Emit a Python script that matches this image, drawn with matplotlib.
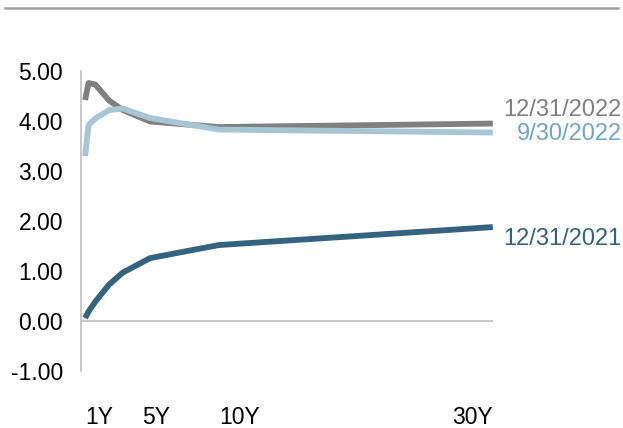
import numpy as np
import matplotlib
matplotlib.use("Agg")
import matplotlib.pyplot as plt
from matplotlib.lines import Line2D

plt.rcParams["font.family"] = ["Liberation Sans", "DejaVu Sans"]

# maturities in years
maturity = [0.25, 0.5, 1, 2, 3, 5, 10, 30]

y_2022_12 = [4.42, 4.76, 4.73, 4.41, 4.22, 3.99, 3.88, 3.95]
y_2022_09 = [3.30, 3.92, 4.05, 4.22, 4.25, 4.06, 3.83, 3.77]
y_2021_12 = [0.06, 0.19, 0.39, 0.73, 0.97, 1.26, 1.52, 1.88]

series = [
    ("12/31/2022", y_2022_12, "#808080", "#808080"),
    ("9/30/2022", y_2022_09, "#a6c6d3", "#6fa6c6"),
    ("12/31/2021", y_2021_12, "#33637f", "#33637f"),
]

tick_labels = ["1Y", "5Y", "10Y", "30Y"]
tick_pos = [1.25, 5.4, 11.5, 28.5]
y_ticks = [-1, 0, 1, 2, 3, 4, 5]

fig = plt.figure(figsize=(6.23, 4.28), dpi=100)
ax = fig.add_axes([0.130, 0.133, 0.661, 0.701])

for name, vals, c, _ in series:
    ax.plot(maturity, vals, color=c, lw=4.2, solid_capstyle="butt", solid_joinstyle="round")

ax.set_xlim(-0.05, 30.0)
ax.set_ylim(-1, 5)
ax.axhline(0, color="#bfbfbf", lw=1.2, zorder=0)

for s in ["top", "right", "bottom"]:
    ax.spines[s].set_visible(False)
ax.spines["left"].set_color("#bfbfbf")
ax.spines["left"].set_linewidth(1.2)

ax.set_yticks(y_ticks)
ax.set_yticklabels([f"{v:.2f}" for v in y_ticks])
ax.set_xticks(tick_pos)
ax.set_xticklabels(tick_labels)
ax.tick_params(axis="y", length=0, pad=13, labelsize=16.5, labelcolor="black")
ax.tick_params(axis="x", length=0, pad=25, labelsize=16.5, labelcolor="black")

# end labels
label_y = {"12/31/2022": 4.22, "9/30/2022": 3.74, "12/31/2021": 1.65}
for name, vals, _, tc in series:
    ax.annotate(name, xy=(1.0, label_y[name]), xycoords=("axes fraction", "data"),
                xytext=(623 * 0.998, 0), textcoords=("figure pixels", "offset points"),
                ha="right", va="center", fontsize=17, color=tc)

fig.add_artist(Line2D([5 / 623, 618 / 623], [1 - 8 / 428, 1 - 8 / 428],
                      color="#a0a0a0", lw=1.8, transform=fig.transFigure))

fig.savefig("out.png", dpi=100)
